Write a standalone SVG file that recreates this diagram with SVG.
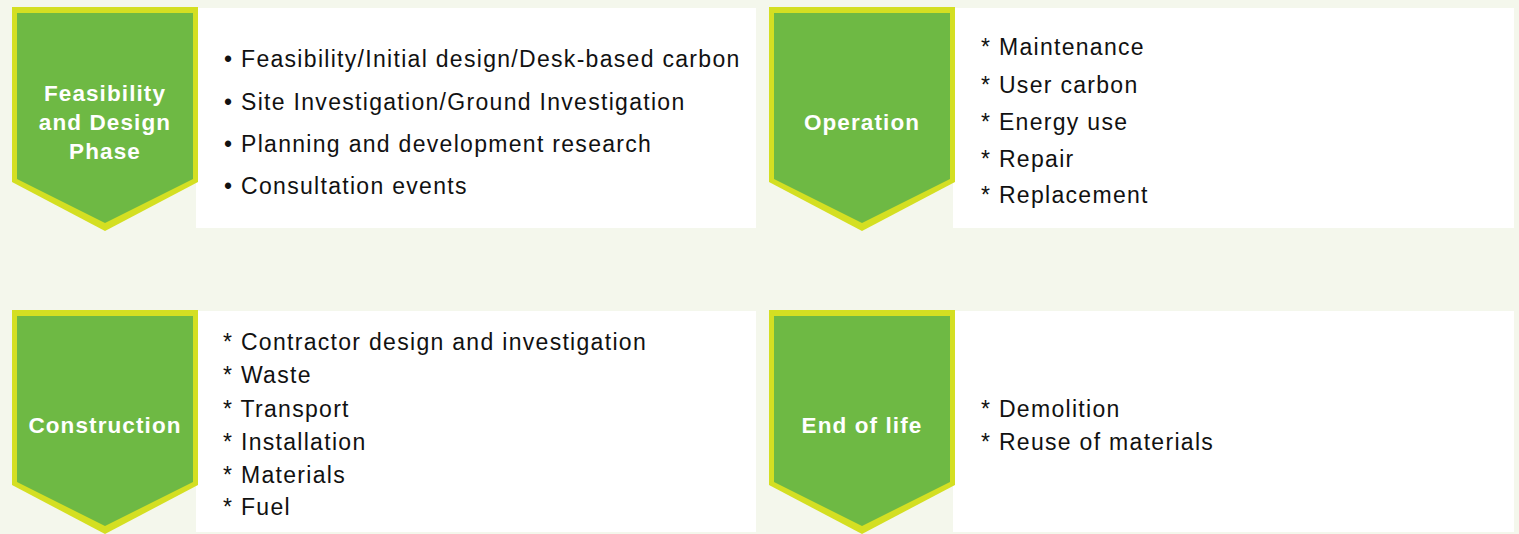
<svg xmlns="http://www.w3.org/2000/svg" width="1519" height="534" viewBox="0 0 1519 534">
<style>
.bg{fill:#f4f7ec}
.box{fill:#ffffff}
.outer{fill:#d4df22}
.inner{fill:#6eb944}
.lbl{font-family:"Liberation Sans",Arial,sans-serif;font-weight:bold;font-size:22.5px;fill:#ffffff;text-anchor:middle;letter-spacing:1.1px}
.txt{font-family:"Liberation Sans",Arial,sans-serif;font-size:23px;fill:#111111;letter-spacing:1.3px}
</style>
<defs>
<g id="shield">
<polygon class="outer" points="12,7 198,7 198,182 105,231 12,182"/>
<polygon class="inner" points="17,13 193,13 193,179 105,223 17,179"/>
</g>
</defs>
<rect class="bg" x="0" y="0" width="1519" height="534"/>
<g id="feasibility">
<rect class="box" x="196" y="8" width="560" height="220"/>
<use href="#shield"/>
<text class="lbl" x="105" y="101">Feasibility</text>
<text class="lbl" x="105" y="130">and Design</text>
<text class="lbl" x="105" y="159">Phase</text>
<text class="txt" x="224" y="67">• Feasibility/Initial design/Desk-based carbon</text>
<text class="txt" x="224" y="110">• Site Investigation/Ground Investigation</text>
<text class="txt" x="224" y="152">• Planning and development research</text>
<text class="txt" x="224" y="194">• Consultation events</text>
</g>
<g id="operation">
<rect class="box" x="953" y="8" width="561" height="220"/>
<use href="#shield" x="757"/>
<text class="lbl" x="862" y="130">Operation</text>
<text class="txt" x="981" y="55">* Maintenance</text>
<text class="txt" x="981" y="93">* User carbon</text>
<text class="txt" x="981" y="130">* Energy use</text>
<text class="txt" x="981" y="167">* Repair</text>
<text class="txt" x="981" y="203">* Replacement</text>
</g>
<g id="construction">
<rect class="box" x="196" y="311" width="560" height="221"/>
<use href="#shield" y="303"/>
<text class="lbl" x="105" y="433">Construction</text>
<text class="txt" x="223" y="350">* Contractor design and investigation</text>
<text class="txt" x="223" y="383">* Waste</text>
<text class="txt" x="223" y="417">* Transport</text>
<text class="txt" x="223" y="450">* Installation</text>
<text class="txt" x="223" y="483">* Materials</text>
<text class="txt" x="223" y="515">* Fuel</text>
</g>
<g id="endoflife">
<rect class="box" x="953" y="311" width="561" height="221"/>
<use href="#shield" x="757" y="303"/>
<text class="lbl" x="862" y="433">End of life</text>
<text class="txt" x="981" y="417">* Demolition</text>
<text class="txt" x="981" y="450">* Reuse of materials</text>
</g>
<g id="connectors"></g>
</svg>
